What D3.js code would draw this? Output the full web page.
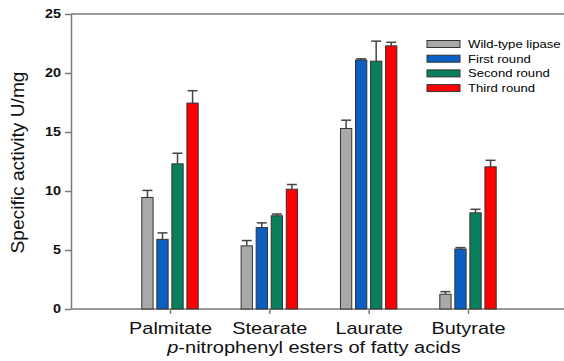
<!DOCTYPE html>
<html>
<head>
<meta charset="utf-8">
<script src="https://cdn.jsdelivr.net/npm/d3@7"></script>
<style>
  body { margin: 0; background: #fff; }
  svg { display: block; font-family: "Liberation Sans", Arial, sans-serif; }
</style>
</head>
<body>
<div id="chart"></div>
<script>
// data
const categories = ["Palmitate", "Stearate", "Laurate", "Butyrate"]
const series = ["Wild-type lipase", "First round", "Second round", "Third round"]
const colors = ["#a9a9a9", "#0b5fc2", "#0a7f5e", "#ff0000"]
const wildType = [9.45, 5.35, 15.3, 1.25]
const firstRound = [5.9, 6.9, 21.1, 5.08]
const secondRound = [12.3, 7.9, 21.0, 8.15]
const thirdRound = [17.45, 10.15, 22.3, 12.05]
const wildTypeErr = [0.6, 0.45, 0.7, 0.22]
const firstRoundErr = [0.55, 0.4, 0.1, 0.12]
const secondRoundErr = [0.9, 0.15, 1.7, 0.3]
const thirdRoundErr = [1.05, 0.4, 0.3, 0.55]
const yTicks = [0, 5, 10, 15, 20, 25]

const values = [wildType, firstRound, secondRound, thirdRound]
const errors = [wildTypeErr, firstRoundErr, secondRoundErr, thirdRoundErr]

const width = 564, height = 361
const svg = d3.select("#chart").append("svg")
    .attr("width", width)
    .attr("height", height)

// scales
let x = d3.scalePoint().domain(categories).range([170, 468])
let sub = d3.scaleBand().domain(series).range([-28.2, 28.2]).paddingInner(0.25)
let y = d3.scaleLinear().domain([0, 25]).range([309, 14])

const axisColor = "#7a7a7a"

// frame: top line + bottom line across the plot
svg.append("line")
    .attr("x1", 71).attr("x2", width)
    .attr("y1", y(25)).attr("y2", y(25))
    .attr("stroke", axisColor).attr("stroke-width", 1.5)
svg.append("line")
    .attr("x1", 71).attr("x2", width)
    .attr("y1", y(0)).attr("y2", y(0))
    .attr("stroke", axisColor).attr("stroke-width", 1.5)

// y axis
let yAxis = svg.append("g")
    .attr("transform", "translate(71,0)")
    .call(d3.axisLeft(y).tickValues(yTicks).tickSize(6).tickSizeOuter(0).tickPadding(4))
yAxis.select(".domain").attr("stroke", axisColor).attr("stroke-width", 1.5)
yAxis.selectAll(".tick line").attr("stroke", axisColor).attr("stroke-width", 1.5)
yAxis.selectAll(".tick text")
    .attr("font-size", 12)
    .attr("font-weight", "bold")
    .attr("fill", "#111")
    .attr("data-stretch", 1.2)

// x axis (ticks + labels only)
let xAxis = svg.append("g")
    .attr("transform", "translate(0," + y(0) + ")")
    .call(d3.axisBottom(x).tickSize(5).tickSizeOuter(0).tickPadding(8))
xAxis.select(".domain").remove()
xAxis.selectAll(".tick line").attr("stroke", axisColor).attr("stroke-width", 1.5)
xAxis.selectAll(".tick text")
    .attr("font-size", 17)
    .attr("fill", "#111")
    .attr("data-stretch", 1.17)

// bars
series.forEach((s, si) => {
    let g = svg.append("g")
    categories.forEach((c, ci) => {
        let v = values[si][ci]
        let e = errors[si][ci]
        let bx = x(c) + sub(s)
        let cx = bx + sub.bandwidth() / 2
        // error bar (upper only)
        g.append("line")
            .attr("x1", cx).attr("x2", cx)
            .attr("y1", y(v)).attr("y2", y(v + e))
            .attr("stroke", "#444").attr("stroke-width", 1.5)
        g.append("line")
            .attr("x1", cx - 5).attr("x2", cx + 5)
            .attr("y1", y(v + e)).attr("y2", y(v + e))
            .attr("stroke", "#444").attr("stroke-width", 1.5)
        g.append("rect")
            .attr("x", bx)
            .attr("y", y(v))
            .attr("width", sub.bandwidth())
            .attr("height", y(0) - y(v))
            .attr("fill", colors[si])
            .attr("stroke", "#333")
            .attr("stroke-width", 1)
    })
})

// legend
let legend = svg.append("g")
series.forEach((s, i) => {
    let ly = 40.5 + i * 14.7
    legend.append("rect")
        .attr("x", 427).attr("y", ly)
        .attr("width", 33).attr("height", 7)
        .attr("fill", colors[i])
        .attr("stroke", "#333").attr("stroke-width", 1)
    legend.append("text")
        .attr("x", 468).attr("y", ly + 7.5)
        .attr("font-size", 10.5)
        .attr("fill", "#000")
        .attr("data-stretch", 1.25)
        .text(s)
})

// axis titles
svg.append("text")
    .attr("transform", "translate(24,162.5) rotate(-90)")
    .attr("text-anchor", "middle")
    .attr("font-size", 18)
    .attr("fill", "#111")
    .attr("textLength", 182)
    .attr("lengthAdjust", "spacingAndGlyphs")
    .text("Specific activity U/mg")

let xTitle = svg.append("text")
    .attr("x", 314).attr("y", 353)
    .attr("text-anchor", "middle")
    .attr("font-size", 16)
    .attr("fill", "#111")
    .attr("data-stretch", 1.25)
xTitle.append("tspan").attr("font-style", "italic").text("p")
xTitle.append("tspan").text("-nitrophenyl esters of fatty acids")

// widen horizontal texts to match the source (it is a bit wider than Arial)
svg.selectAll("text[data-stretch]").each(function () {
    let w = this.getComputedTextLength()
    let k = +this.getAttribute("data-stretch")
    d3.select(this)
        .attr("textLength", w * k)
        .attr("lengthAdjust", "spacingAndGlyphs")
})
</script>
</body>
</html>
